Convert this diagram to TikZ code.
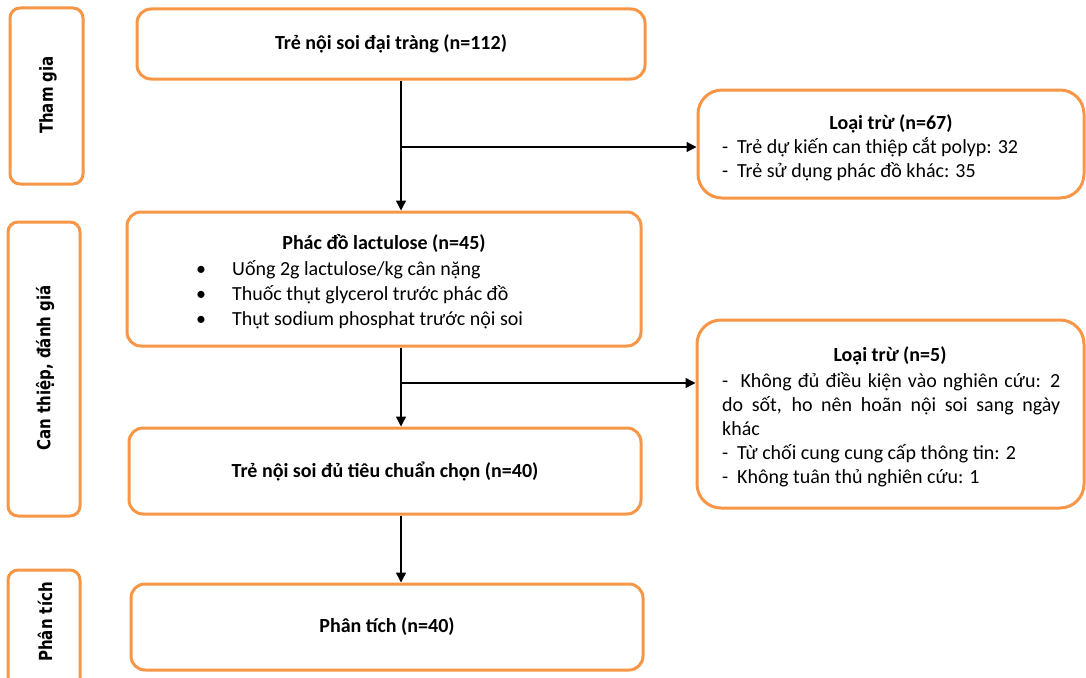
\documentclass[tikz,border=0pt]{standalone}
\usepackage{fontspec}
\usepackage{graphicx}
\setmainfont{Carlito}
\newfontfamily\sidefont{DejaVu Sans}
\usetikzlibrary{arrows.meta}
\definecolor{boxorange}{HTML}{F79646}
\newcommand{\sidetext}[1]{\scalebox{1}[1.2]{#1}}
\begin{document}
\begin{tikzpicture}[x=1pt,y=-1pt,
  box/.style={draw=boxorange, line width=3pt, rounded corners=14pt, fill=white, inner sep=0pt,
    font=\fontsize{20}{24.5}\selectfont\bfseries},
  sidebox/.style={draw=boxorange, line width=3pt, rounded corners=10pt, fill=white, inner sep=0pt},
  exbox/.style={draw=boxorange, line width=3pt, rounded corners=24pt, fill=white, inner sep=0pt},
  sidelabel/.style={rotate=90, font=\sidefont\fontsize{15}{18}\selectfont\bfseries, inner sep=0pt},
  txt/.style={font=\fontsize{20}{24.5}\selectfont, inner sep=0pt, anchor=base west},
  ttl/.style={font=\fontsize{20}{24.5}\selectfont\bfseries, inner sep=0pt, anchor=base},
  arr/.style={-{Triangle[length=10pt,width=10pt]}, line width=1.4pt, black},
]
\useasboundingbox (0,0) rectangle (1086,677);
\begin{scope}
\clip (0,0) rectangle (1086,677);
% side boxes
\node[sidebox, minimum width=73pt, minimum height=176pt] (s1) at (46.5,96) {};
\node[sidelabel] (s1t) at (48,95) {\sidetext{Tham gia}};
\node[sidebox, minimum width=72pt, minimum height=294pt] (s2) at (44,369) {};
\node[sidelabel] (s2t) at (45,368) {\sidetext{Can thiệp, đánh giá}};
\node[sidebox, minimum width=72pt, minimum height=130pt] (s3) at (44,635) {};
\node[sidelabel] (s3t) at (45,622) {\sidetext{Phân tích}};
\end{scope}
% main boxes
\node[box, minimum width=508pt, minimum height=70pt] (A) at (391,44) {Trẻ nội soi đại tràng (n=112)};
\node[box, minimum width=514pt, minimum height=134pt] (B) at (384,279) {};
\node[box, minimum width=512pt, minimum height=86pt] (C) at (385,471) {Trẻ nội soi đủ tiêu chuẩn chọn (n=40)};
\node[box, minimum width=512pt, minimum height=86pt] (D) at (387,627) {Phân tích (n=40)};
\node[exbox, minimum width=386pt, minimum height=108pt] (E1) at (891,144) {};
\node[exbox, minimum width=387pt, minimum height=188pt] (E2) at (890.5,414) {};
% B text
\node[ttl] (Bt) at (384,249) {Phác đồ lactulose (n=45)};
\node[txt] (Bb1) at (196,275) {•};
\node[txt] (Bl1) at (232,275) {Uống 2g lactulose/kg cân nặng};
\node[txt] (Bb2) at (196,300) {•};
\node[txt] (Bl2) at (232,300) {Thuốc thụt glycerol trước phác đồ};
\node[txt] (Bb3) at (196,325) {•};
\node[txt] (Bl3) at (232,325) {Thụt sodium phosphat trước nội soi};
% E1 text
\node[ttl] (E1t) at (891,129) {Loại trừ (n=67)};
\node[txt] (E1a) at (722,153) {\makebox[15pt][l]{-}Trẻ dự kiến can thiệp cắt polyp: 32};
\node[txt] (E1b) at (722,177) {\makebox[15pt][l]{-}Trẻ sử dụng phác đồ khác: 35};
% E2 text
\node[ttl] (E2t) at (890,361) {Loại trừ (n=5)};
\node[txt] (E2a) at (722,387) {\makebox[338pt][s]{- \ Không đủ điều kiện vào nghiên cứu: 2}};
\node[txt] (E2b) at (722,411) {\makebox[338pt][s]{do sốt, ho nên hoãn nội soi sang ngày}};
\node[txt] (E2c) at (722,435) {khác};
\node[txt] (E2d) at (722,459) {\makebox[15pt][l]{-}Từ chối cung cung cấp thông tin: 2};
\node[txt] (E2e) at (722,483) {\makebox[15pt][l]{-}Không tuân thủ nghiên cứu: 1};
% connectors
\coordinate (sp) at (401,0);
\coordinate (j1) at (401,147);
\coordinate (j2) at (401,383);
\draw[arr] (A.south -| sp) -- (B.north -| sp);
\draw[arr] (j1) -- (j1 -| E1.west);
\draw[arr] (B.south -| sp) -- (C.north -| sp);
\draw[arr] (j2) -- (j2 -| E2.west);
\draw[arr] (C.south -| sp) -- (D.north -| sp);
\end{tikzpicture}
\end{document}
